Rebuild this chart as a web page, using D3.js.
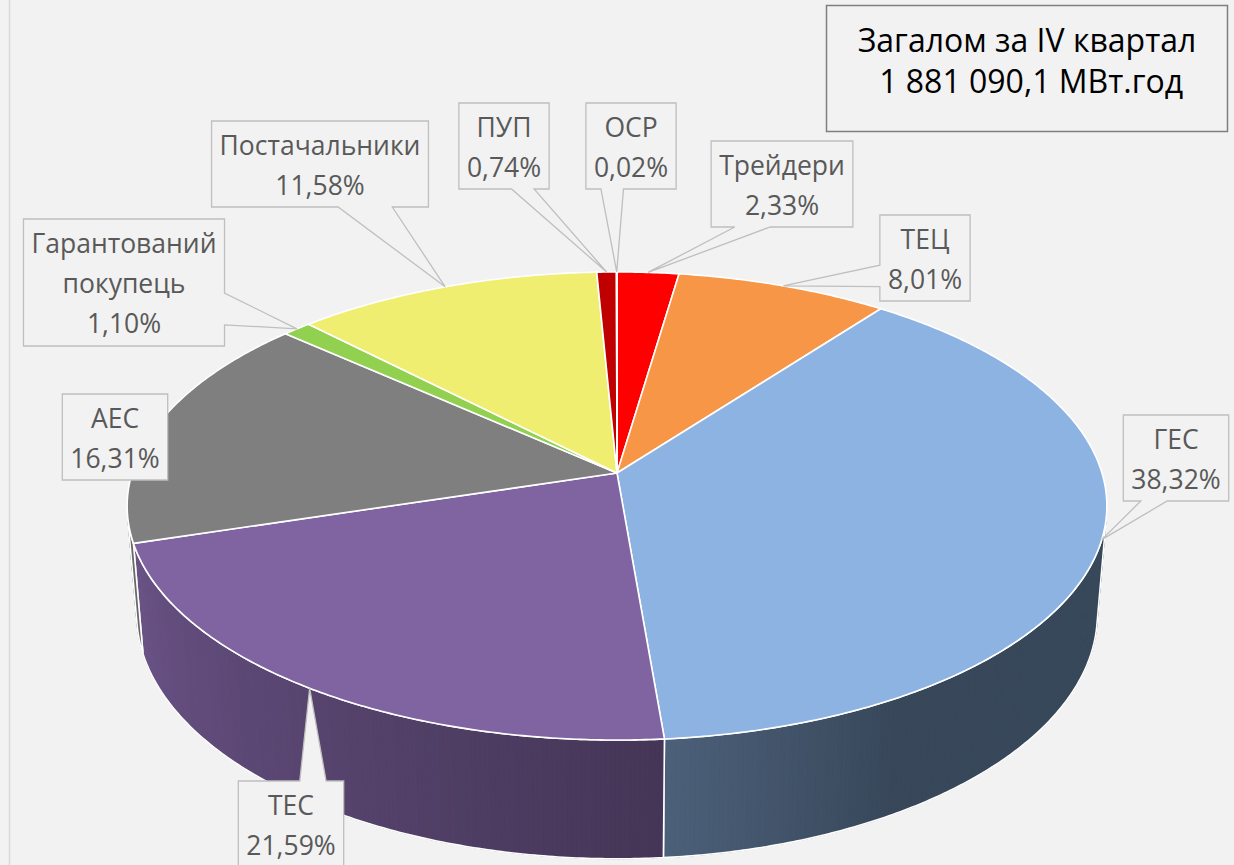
<!DOCTYPE html>
<html>
<head>
<meta charset="utf-8">
<script src="https://cdn.jsdelivr.net/npm/d3@7"></script>
<style>
  html, body { margin: 0; padding: 0; background: #f2f2f2; }
  svg { display: block; }
</style>
</head>
<body>
<div id="chart"></div>
<script>
// data
var categories = ["Трейдери", "ТЕЦ", "ГЕС", "ТЕС", "АЕС", "Гарантований покупець", "Постачальники", "ПУП", "ОСР"]
var shares = [2.33, 8.01, 38.32, 21.59, 16.31, 1.10, 11.58, 0.74, 0.02]
var colors = ["#ff0000", "#f79646", "#8db3e2", "#8064a2", "#7f7f7f", "#92d050", "#f0ee70", "#c00000", "#ffc000"]
var titleLines = ["Загалом за IV квартал", " 1 881 090,1 МВт.год"]

// callout boxes: centre x and top y of each box
var calloutX = [782, 925, 1176, 291, 115, 124, 320, 504, 631]
var calloutY = [141, 215, 415, 781, 394, 219, 121, 103, 103]

var width = 1234
var height = 865

// 3d look: simple perspective camera over a flat cylinder
var cx = 617, cy = 473
var focal = 3031, dist = 1, rad = 0.16, thick = 0.041
var elev = Math.asin(0.473)

function project(phi, r, y) {
    var X = r * Math.sin(phi), Z = -r * Math.cos(phi)
    var up = y * Math.cos(elev) - Z * Math.sin(elev)
    var depth = dist - (y * Math.sin(elev) + Z * Math.cos(elev))
    return [cx + focal * X / depth, cy - focal * up / depth]
}

function arcPoints(a0, a1, y) {
    var n = Math.max(2, Math.ceil(Math.abs(a1 - a0) / (Math.PI / 360)))
    var pts = []
    for (var i = 0; i <= n; i++) {
        pts.push(project(a0 + (a1 - a0) * i / n, rad, y))
    }
    return pts
}

var svg = d3.select("#chart")
  .append("svg")
    .attr("width", width)
    .attr("height", height)

svg.append("rect")
    .attr("width", width).attr("height", height)
    .attr("fill", "#f2f2f2")
svg.append("line")
    .attr("x1", 9.5).attr("x2", 9.5).attr("y1", 0).attr("y2", height)
    .attr("stroke", "#d9d9d9").attr("stroke-width", 1.5)

var pie = d3.pie().sort(null).value(function(d) { return d })
var arcs = pie(shares)

var line = d3.line()

// side wall is seen only where it faces the camera
var wallLo = Math.acos(-rad / (dist * Math.cos(elev)))
var wallHi = 2 * Math.PI - wallLo

var shade = d3.scaleLinear()
    .domain([150, 176, 253].map(function(d) { return d * Math.PI / 180 }))
    .range([0.40, 0.54, 0.83])
    .clamp(true)

function shadeColor(base, phi) {
    var c = d3.rgb(base), k = shade(phi)
    return d3.rgb(c.r * k, c.g * k, c.b * k).toString()
}

var walls = svg.append("g")
arcs.forEach(function(d, i) {
    var s = Math.max(d.startAngle, wallLo), e = Math.min(d.endAngle, wallHi)
    if (e <= s) return
    var step = Math.PI / 360
    for (var a = s; a < e; a += step) {
        var b = Math.min(e, a + step * 1.6)
        var top = arcPoints(a, b, 0)
        var bot = arcPoints(b, a, -thick)
        var col = shadeColor(colors[i], (a + b) / 2)
        walls.append("path")
            .attr("d", line(top.concat(bot)) + "Z")
            .attr("fill", col)
            .attr("stroke", col)
            .attr("stroke-width", 0.6)
    }
    walls.append("path")
        .attr("d", line(arcPoints(s, e, 0).concat(arcPoints(e, s, -thick))) + "Z")
        .attr("fill", "none")
        .attr("stroke", "#ffffff")
        .attr("stroke-width", 1.6)
})

// top faces
svg.append("g")
  .selectAll("path")
  .data(arcs)
  .enter()
  .append("path")
    .attr("d", function(d) {
        return line([project(0, 0, 0)].concat(arcPoints(d.startAngle, d.endAngle, 0))) + "Z"
    })
    .attr("fill", function(d, i) { return colors[i] })
    .attr("stroke", "#ffffff")
    .attr("stroke-width", 1.6)
    .attr("stroke-linejoin", "round")

// callouts
function fracs(pos) { return pos ? [7 / 12, 10 / 12] : [2 / 12, 5 / 12] }

function calloutPath(x, y, w, h, tx, ty) {
    var p = d3.path()
    if (tx >= x && tx <= x + w && ty >= y && ty <= y + h) {
        p.rect(x, y, w, h)
        return p.toString()
    }
    var dx = tx - (x + w / 2), dy = ty - (y + h / 2)
    var vert = Math.abs(dy) > Math.abs(dx * h / w)
    var f
    p.moveTo(x, y)
    if (vert && dy < 0) {
        f = fracs(dx > 0)
        p.lineTo(x + w * f[0], y); p.lineTo(tx, ty); p.lineTo(x + w * f[1], y)
    }
    p.lineTo(x + w, y)
    if (!vert && dx > 0) {
        f = fracs(dy > 0)
        p.lineTo(x + w, y + h * f[0]); p.lineTo(tx, ty); p.lineTo(x + w, y + h * f[1])
    }
    p.lineTo(x + w, y + h)
    if (vert && dy > 0) {
        f = fracs(dx > 0)
        p.lineTo(x + w * f[1], y + h); p.lineTo(tx, ty); p.lineTo(x + w * f[0], y + h)
    }
    p.lineTo(x, y + h)
    if (!vert && dx < 0) {
        f = fracs(dy > 0)
        p.lineTo(x, y + h * f[1]); p.lineTo(tx, ty); p.lineTo(x, y + h * f[0])
    }
    p.closePath()
    return p.toString()
}

var fontSize = 26.5
var lineGap = 40
var labels = svg.append("g")

arcs.forEach(function(d, i) {
    var lines = categories[i].split(" ")
    lines.push(shares[i].toFixed(2).replace(".", ",") + "%")

    var g = labels.append("g")
    var box = g.append("path")
    var txt = g.append("text")
        .attr("text-anchor", "middle")
        .attr("font-family", "'Open Sans', 'Noto Sans', sans-serif")
        .attr("font-size", fontSize)
        .attr("fill", "#595959")
    lines.forEach(function(l, j) {
        txt.append("tspan")
            .attr("x", calloutX[i])
            .attr("y", calloutY[i] + 34 + j * lineGap)
            .text(l)
    })
    var tw = txt.node().getBBox().width
    var w = tw + 16
    var h = lines.length * 41 + 4
    var tip = project((d.startAngle + d.endAngle) / 2, rad, 0)
    box.attr("d", calloutPath(calloutX[i] - w / 2, calloutY[i], w, h, tip[0], tip[1]))
        .attr("fill", "#f2f2f2")
        .attr("stroke", "#bfbfbf")
        .attr("stroke-width", 1.3)
        .attr("stroke-linejoin", "miter")
})

// total box
svg.append("rect")
    .attr("x", 826.5).attr("y", 5.5)
    .attr("width", 401).attr("height", 126)
    .attr("fill", "#f2f2f2")
    .attr("stroke", "#7f7f7f")
    .attr("stroke-width", 1.5)

svg.append("text")
    .attr("text-anchor", "middle")
    .attr("font-family", "'Open Sans', 'Noto Sans', sans-serif")
    .attr("font-size", 32)
    .attr("fill", "#000000")
  .selectAll("tspan")
  .data(titleLines)
  .enter()
  .append("tspan")
    .attr("x", 1027)
    .attr("y", function(d, i) { return 52 + i * 41 })
    .attr("xml:space", "preserve")
    .style("white-space", "pre")
    .text(function(d) { return d })
</script>
</body>
</html>
